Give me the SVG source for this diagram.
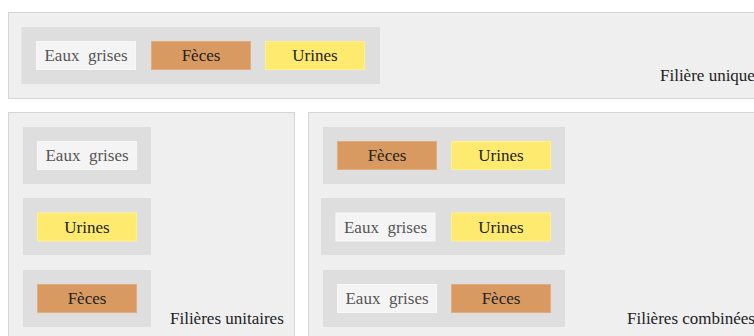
<svg xmlns="http://www.w3.org/2000/svg" width="754" height="336" viewBox="0 0 754 336">
<style>
.outer{fill:#efefef;stroke:#d6d6d6;stroke-width:1}
.inner{fill:#dedede}
.eaux{fill:#f4f4f4;stroke:#f8f8f8;stroke-width:1}
.feces{fill:#d99a61;stroke:#e2ad7e;stroke-width:1}
.urines{fill:#ffea70;stroke:#fff08c;stroke-width:1}
text{font-family:"Liberation Serif","Times New Roman",serif;font-size:17px;white-space:pre}
.t{text-anchor:middle;fill:#222}
.tg{text-anchor:middle;fill:#555}
.lbl{fill:#222}
</style>
<g id="filiere-unique">
<rect class="outer" x="8.5" y="12.5" width="760" height="86"/>
<text class="lbl" x="660" y="81">Filière unique</text>
<rect class="inner" x="21.5" y="27" width="358.5" height="57"/>
<g id="u-eaux"><rect class="eaux" x="36.5" y="41.5" width="99" height="28"/><text class="tg" x="86" y="61">Eaux  grises</text></g>
<g id="u-feces"><rect class="feces" x="151.5" y="41.5" width="99" height="28"/><text class="t" x="201" y="61">Fèces</text></g>
<g id="u-urines"><rect class="urines" x="265.5" y="41.5" width="99" height="28"/><text class="t" x="315" y="61">Urines</text></g>
</g>
<g id="filieres-unitaires">
<rect class="outer" x="8.5" y="112.5" width="286" height="240"/>
<text class="lbl" x="170" y="324">Filières unitaires</text>
<rect class="inner" x="23" y="127" width="128" height="57"/>
<rect class="inner" x="23" y="198" width="128" height="57"/>
<rect class="inner" x="23" y="270" width="128" height="57"/>
<g id="un-eaux"><rect class="eaux" x="37.5" y="141.5" width="99" height="28"/><text class="tg" x="87" y="161">Eaux  grises</text></g>
<g id="un-urines"><rect class="urines" x="37.5" y="213" width="99" height="28"/><text class="t" x="87" y="232.5">Urines</text></g>
<g id="un-feces"><rect class="feces" x="37.5" y="284.5" width="99" height="28"/><text class="t" x="87" y="304">Fèces</text></g>
</g>
<g id="filieres-combinees">
<rect class="outer" x="308.5" y="112.5" width="460" height="240"/>
<text class="lbl" x="627" y="324">Filières combinées</text>
<rect class="inner" x="323" y="127" width="242" height="57"/>
<rect class="inner" x="321" y="198" width="244" height="57"/>
<rect class="inner" x="323" y="270" width="242" height="57"/>
<g id="c1-feces"><rect class="feces" x="337.5" y="141.5" width="99" height="28"/><text class="t" x="387" y="161">Fèces</text></g>
<g id="c1-urines"><rect class="urines" x="451.5" y="141.5" width="99" height="28"/><text class="t" x="501" y="161">Urines</text></g>
<g id="c2-eaux"><rect class="eaux" x="336" y="213" width="99" height="28"/><text class="tg" x="385.5" y="232.5">Eaux  grises</text></g>
<g id="c2-urines"><rect class="urines" x="451.5" y="213" width="99" height="28"/><text class="t" x="501" y="232.5">Urines</text></g>
<g id="c3-eaux"><rect class="eaux" x="337.5" y="284.5" width="99" height="28"/><text class="tg" x="387" y="304">Eaux  grises</text></g>
<g id="c3-feces"><rect class="feces" x="451.5" y="284.5" width="99" height="28"/><text class="t" x="501" y="304">Fèces</text></g>
</g>
<g id="connectors"/>
</svg>
